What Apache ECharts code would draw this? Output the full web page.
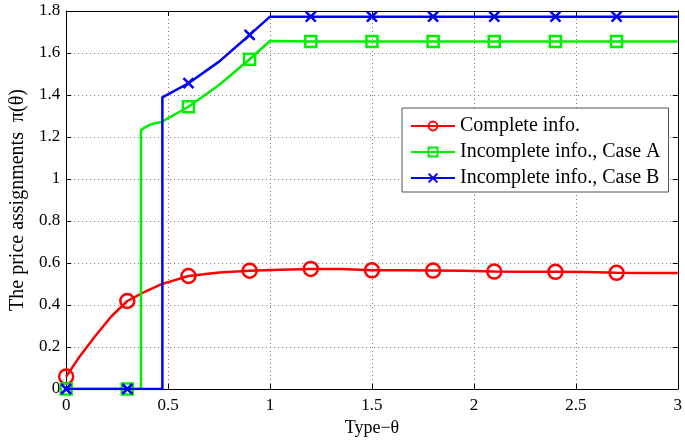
<!DOCTYPE html>
<html>
<head>
<meta charset="utf-8">
<script src="https://cdn.jsdelivr.net/npm/echarts@6/dist/echarts.min.js"></script>
<style>html,body{margin:0;padding:0;background:#fff}#c{width:685px;height:442px}</style>
</head>
<body>
<div id="c"></div>
<script>
// ---- data ----
const seriesNames = ['Complete info.', 'Incomplete info., Case A', 'Incomplete info., Case B'];
const markerTheta = [0, 0.3, 0.6, 0.9, 1.2, 1.5, 1.8, 2.1, 2.4, 2.7];

const redTheta = [0, 0.06, 0.14, 0.22, 0.3, 0.38, 0.465, 0.6, 0.75, 0.9, 1.05, 1.2, 1.35, 1.5, 1.65, 1.8, 1.95, 2.1, 2.25, 2.4, 2.55, 2.7, 2.85, 3.0];
const redPrice = [0.059, 0.146, 0.249, 0.344, 0.419, 0.46, 0.498, 0.538, 0.555, 0.563, 0.568, 0.572, 0.571, 0.565, 0.565, 0.564, 0.563, 0.559, 0.558, 0.558, 0.557, 0.553, 0.552, 0.552];

const greenTheta = [0, 0.3, 0.367, 0.367, 0.385, 0.42, 0.47, 0.6, 0.75, 0.9, 1.0, 1.2, 1.5, 1.8, 2.1, 2.4, 2.7, 3.0];
const greenPrice = [0, 0, 0, 1.232, 1.245, 1.262, 1.273, 1.344, 1.448, 1.57, 1.657, 1.655, 1.655, 1.655, 1.655, 1.655, 1.655, 1.655];

const blueTheta = [0, 0.3, 0.472, 0.472, 0.6, 0.75, 0.9, 1.0, 1.2, 1.5, 1.8, 2.1, 2.4, 2.7, 3.0];
const bluePrice = [0, 0, 0, 1.389, 1.456, 1.559, 1.686, 1.773, 1.773, 1.773, 1.773, 1.773, 1.773, 1.773, 1.773];

const xTicks = [0, 0.5, 1, 1.5, 2, 2.5, 3];
const yTicks = [0, 0.2, 0.4, 0.6, 0.8, 1, 1.2, 1.4, 1.6, 1.8];

// ---- build ----
const FONT = '"Liberation Serif", "Times New Roman", serif';
function build(xs, ys) {
  return xs.map((x, i) => {
    const isMarker = markerTheta.some(m => Math.abs(m - x) < 1e-9) &&
      !(i > 0 && Math.abs(xs[i - 1] - x) < 1e-9);
    const d = { value: [x, ys[i]] };
    if (!isMarker) d.symbol = 'none';
    return d;
  });
}
const crossPath = 'path://M0,0L10,10M10,0L0,10';

const chart = echarts.init(document.getElementById('c'), null, { renderer: 'canvas' });
const gridLine = { show: true, lineStyle: { color: '#777', width: 1, type: [1, 3] } };
const axisLine = { show: true, onZero: false, lineStyle: { color: '#000', width: 1 } };
const tick = { show: true, inside: true, length: 5, lineStyle: { color: '#000' } };

chart.setOption({
  animation: false,
  backgroundColor: '#fff',
  textStyle: { fontFamily: FONT },
  grid: { left: 61, right: 6, top: 11, bottom: 53, containLabel: false },
  legend: {
    orient: 'vertical',
    left: 402, top: 108,
    padding: [8, 8, 4, 8],
    itemGap: 6,
    itemWidth: 44, itemHeight: 11,
    backgroundColor: '#fff',
    borderColor: '#555', borderWidth: 1,
    textStyle: { fontFamily: FONT, fontSize: 20, color: '#000', lineHeight: 20 },
    data: seriesNames
  },
  xAxis: [{
    type: 'value', min: 0, max: 3, interval: 0.5,
    name: 'Type\u2212\u03b8', nameLocation: 'middle', nameGap: 30,
    nameTextStyle: { fontFamily: FONT, fontSize: 18, color: '#000' },
    axisLine, axisTick: tick,
    axisLabel: { fontFamily: FONT, fontSize: 17, color: '#000', margin: 8,
      formatter: v => xTicks.includes(v) ? String(v) : '' },
    splitLine: gridLine
  }, {
    type: 'value', min: 0, max: 3, interval: 0.5, position: 'top',
    axisLine, axisTick: tick, axisLabel: { show: false }, splitLine: { show: false }
  }],
  yAxis: [{
    type: 'value', min: 0, max: 1.8, interval: 0.2,
    name: 'The price assignments  \u03c0(\u03b8)', nameLocation: 'middle', nameGap: 36,
    nameTextStyle: { fontFamily: FONT, fontSize: 20, color: '#000' },
    axisLine, axisTick: tick,
    axisLabel: { fontFamily: FONT, fontSize: 17, color: '#000', margin: 6,
      formatter: v => { const r = Math.round(v * 10) / 10; return yTicks.includes(r) ? String(r) : ''; } },
    splitLine: gridLine
  }, {
    type: 'value', min: 0, max: 1.8, interval: 0.2, position: 'right',
    axisLine, axisTick: tick, axisLabel: { show: false }, splitLine: { show: false }
  }],
  series: [{
    name: seriesNames[0], type: 'line', data: build(redTheta, redPrice),
    symbol: 'circle', symbolSize: 14,
    lineStyle: { color: '#ff0000', width: 2.5 },
    itemStyle: { color: 'rgba(0,0,0,0)', borderColor: '#ff0000', borderWidth: 2.5 },
    z: 3
  }, {
    name: seriesNames[1], type: 'line', data: build(greenTheta, greenPrice),
    symbol: 'rect', symbolSize: 11,
    lineStyle: { color: '#00ee00', width: 2.5 },
    itemStyle: { color: 'rgba(0,0,0,0)', borderColor: '#00ee00', borderWidth: 2.5 },
    z: 4
  }, {
    name: seriesNames[2], type: 'line', data: build(blueTheta, bluePrice),
    symbol: crossPath, symbolSize: 10,
    lineStyle: { color: '#0000ff', width: 2.5 },
    itemStyle: { color: 'rgba(0,0,0,0)', borderColor: '#0000ff', borderWidth: 2.5 },
    z: 5
  }]
});
</script>
</body>
</html>
